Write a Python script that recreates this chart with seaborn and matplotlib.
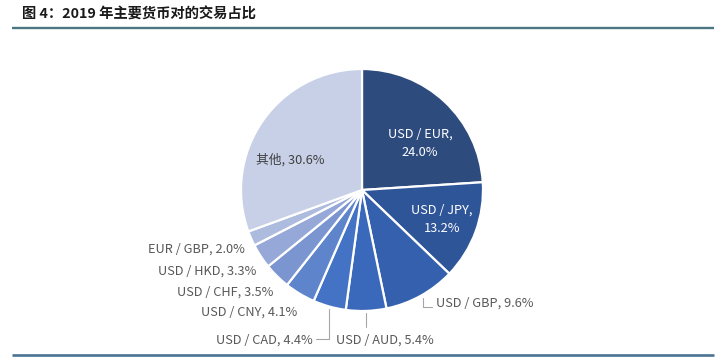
import numpy as np
import matplotlib
matplotlib.use("Agg")
import matplotlib.pyplot as plt
import seaborn as sns

# ---- data ----
labels = ["USD / EUR", "USD / JPY", "USD / GBP", "USD / AUD", "USD / CAD",
          "USD / CNY", "USD / CHF", "USD / HKD", "EUR / GBP", "其他"]
shares = [24.0, 13.2, 9.6, 5.4, 4.4, 4.1, 3.5, 3.3, 2.0, 30.6]
colors = ["#2E4B7E", "#2F5599", "#3460AE", "#3A68BA", "#4472C4",
          "#5E84CC", "#7A95D0", "#96A8D8", "#ADBBDF", "#C8D0E7"]
title = "图 4：2019 年主要货币对的交易占比"

sns.set_theme(style="white")
plt.rcParams["font.family"] = ["Noto Sans CJK SC", "DejaVu Sans"]

W, H = 724, 363
fig = plt.figure(figsize=(W / 100, H / 100), dpi=100)
ax = fig.add_axes([0, 0, 1, 1])

cx, cy, R = 362, 190, 121
palette = sns.color_palette(colors)
wedges, _ = ax.pie(shares, colors=palette, startangle=-90, counterclock=True,
                   center=(cx, cy), radius=R,
                   wedgeprops=dict(edgecolor="white", linewidth=1.6))
ax.set_xlim(0, W)
ax.set_ylim(H, 0)
ax.set_aspect("equal")
ax.axis("off")

def edge_point(w, f=1.0):
    th = np.deg2rad((w.theta1 + w.theta2) / 2)
    return cx + f * R * np.cos(th), cy + f * R * np.sin(th)

fs = 9.2
lab_gray = "#595959"
line_gray = "#A6A6A6"

def txt(i):
    return f"{labels[i]}, {shares[i]:.1f}%"

# inside labels
ax.text(420, 143, f"{labels[0]},\n{shares[0]:.1f}%", color="white", fontsize=fs,
        ha="center", va="center", linespacing=1.5)
ax.text(442, 219, f"{labels[1]},\n{shares[1]:.1f}%", color="white", fontsize=fs,
        ha="center", va="center", linespacing=1.5)
ax.text(290, 160, txt(9), color="#404040", fontsize=fs, ha="center", va="center")

# GBP with leader
ex, ey = edge_point(wedges[2])
ax.plot([ex + 2, ex + 2, ex + 11], [ey + 2, ey + 11, ey + 11], color=line_gray, lw=0.8)
ax.text(436, 303, txt(2), color=lab_gray, fontsize=fs, ha="left", va="center")

# AUD with leader
ex, ey = edge_point(wedges[3])
ax.plot([ex, ex], [ey + 2, ey + 16], color=line_gray, lw=0.8)
ax.text(336, 340, txt(3), color=lab_gray, fontsize=fs, ha="left", va="center")

# CAD with leader
ex, ey = edge_point(wedges[4])
ax.plot([ex, ex, ex - 13], [ey + 2, ey + 32, ey + 32], color=line_gray, lw=0.8)
ax.text(313, 340, txt(4), color=lab_gray, fontsize=fs, ha="right", va="center")

# left side outside labels
for i, (x, y) in zip([5, 6, 7, 8], [(297, 312), (273, 292), (256, 271), (245, 249)]):
    ax.text(x, y, txt(i), color=lab_gray, fontsize=fs, ha="right", va="center")

# title and rules
ax.text(22, 15, title, fontsize=10.3, fontweight="bold", color="#1a1a1a",
        ha="left", va="center")
ax.plot([12, 714], [28, 28], color="#4B7682", lw=1.7, solid_capstyle="butt")
ax.plot([12, 714], [355, 355], color="#4A7393", lw=1.9, solid_capstyle="butt")

fig.savefig("out.png", dpi=100)
